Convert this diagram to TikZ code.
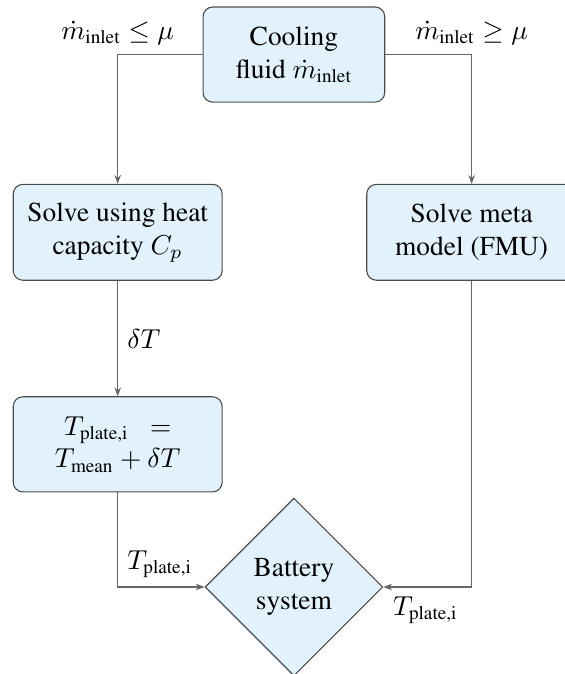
\documentclass[tikz,border=0pt]{standalone}
\usepackage[T1]{fontenc}
\usepackage{times}
\usepackage{amsmath}
\usepackage{xcolor}
\usepackage{tikz}
\usetikzlibrary{shapes.geometric, arrows.meta}

\definecolor{boxblue}{RGB}{225,242,252}

\tikzset{
  blockbox/.style={rectangle, rounded corners=3.5pt, draw=black!70, fill=boxblue, align=center, inner sep=2pt},
  decbox/.style={diamond, draw=black!70, fill=boxblue, align=center, inner sep=0pt, minimum width=2.28cm, minimum height=2.28cm},
  flowline/.style={draw=black!60, line width=0.45pt, ->}
}

\begin{document}
\begin{tikzpicture}[>={Stealth[length=3.2pt,width=2.4pt]}]

\useasboundingbox (0,0) rectangle (7.235,-8.646);

% boxes
\node[blockbox, minimum width=2.33cm, minimum height=1.22cm] (cool) at (3.77,-0.70) {Cooling\\fluid $\dot{m}_{\text{inlet}}$};
\node[blockbox, minimum width=2.68cm, minimum height=1.23cm] (solve) at (1.51,-2.98) {Solve using heat\\capacity $C_p$};
\node[blockbox, minimum width=2.69cm, minimum height=1.23cm] (meta) at (6.05,-2.98) {Solve meta\\model (FMU)};
\node[blockbox, minimum width=2.68cm, minimum height=1.22cm] (plate) at (1.51,-5.70) {$T_{\text{plate,i}}\ \ =$\\$T_{\text{mean}} + \delta T$};
\node[decbox] (battery) at (3.77,-7.53) {Battery\\system};

% connectors
\draw[flowline] (cool.west) -| node[pos=0.5, above] {$\dot{m}_{\text{inlet}} \leq \mu$} (solve.north);
\draw[flowline] (cool.east) -| node[pos=0.5, above] {$\dot{m}_{\text{inlet}} \geq \mu$} (meta.north);
\draw[flowline] (solve.south) -- node[right] {$\delta T$} (plate.north);
\draw[flowline] (plate.south) |- node[pos=0.5, above right] {$T_{\text{plate,i}}$} (battery.west);
\draw[flowline] (meta.south) |- node[pos=1, below right] {$T_{\text{plate,i}}$} (battery.east);

\end{tikzpicture}
\end{document}
